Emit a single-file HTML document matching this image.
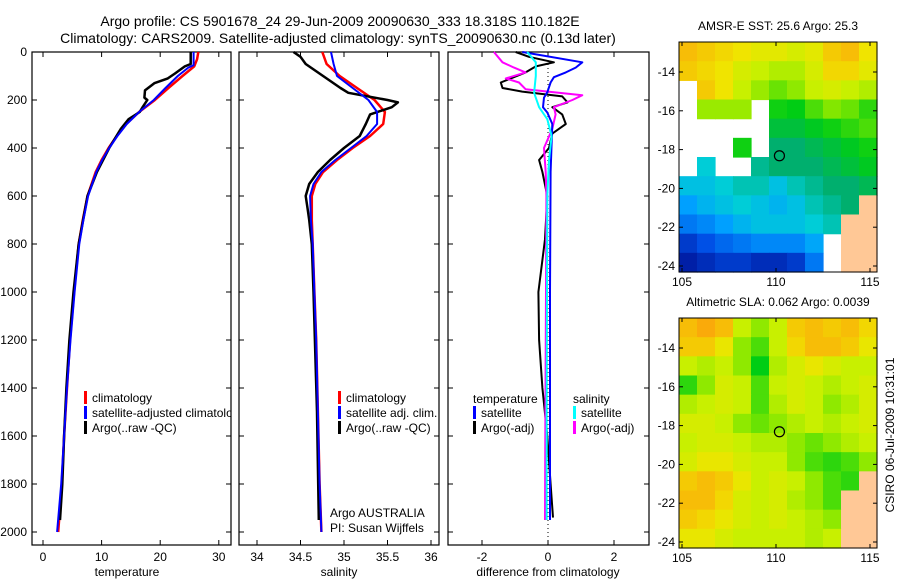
<!DOCTYPE html>
<html><head><meta charset="utf-8"><style>
html,body{margin:0;padding:0;background:#fff}
svg{display:block;font-family:"Liberation Sans",sans-serif}
</style></head><body>
<svg id="fig" width="900" height="580" viewBox="0 0 900 580" xmlns="http://www.w3.org/2000/svg">
<rect width="900" height="580" fill="#fff"/>
<text x="340" y="26" font-size="14" text-anchor="middle">Argo profile: CS 5901678_24 29-Jun-2009 20090630_333 18.318S 110.182E</text>
<text x="338" y="43" font-size="14" text-anchor="middle">Climatology: CARS2009. Satellite-adjusted climatology: synTS_20090630.nc (0.13d later)</text>
<text x="894" y="435" font-size="12" text-anchor="middle" transform="rotate(-90 894 435)">CSIRO 06-Jul-2009 10:31:01</text>
</svg>
<script>
// ---------- data ----------
const depthTicks = [0,200,400,600,800,1000,1200,1400,1600,1800,2000];
const tempTicks = [0,10,20,30];
const salTicks = [34,34.5,35,35.5,36];
const diffTicks = [-2,0,2];

const tClimDepth = [0,30,60,100,150,200,250,300,350,400,450,500,600,700,800,1000,1200,1400,1600,1800,2000];
const tClimVal   = [26.5,26.3,25.8,23.8,21.4,19.1,16.4,14.2,12.6,11.2,10.0,9.0,7.6,6.8,6.1,5.3,4.6,4.1,3.6,3.2,2.6];
const tSatDepth  = [0,55,65,100,150,200,250,300,350,400,450,500,600,700,800,1000,1200,1400,1600,1800,2000];
const tSatVal    = [25.7,25.7,24.8,23.0,20.9,18.9,16.4,14.3,12.7,11.3,10.1,9.1,7.7,6.9,6.2,5.4,4.7,4.1,3.6,3.1,2.4];
const tArgoDepth = [0,50,60,90,110,130,160,190,200,230,250,280,320,400,500,600,800,1000,1200,1400,1600,1800,1950];
const tArgoVal   = [25.2,25.2,24.2,22.5,21.3,19.0,17.4,17.3,17.8,17.0,16.5,14.6,13.3,11.3,9.2,7.6,6.1,5.2,4.5,4.0,3.6,3.3,2.9];

const sClimDepth = [0,50,100,150,200,250,300,350,400,450,500,550,600,700,800,1000,1200,1500,1800,2000];
const sClimVal   = [34.75,34.8,34.95,35.15,35.35,35.47,35.45,35.3,35.1,34.92,34.76,34.67,34.63,34.63,34.64,34.66,34.68,34.7,34.72,34.74];
const sSatDepth  = [0,50,100,150,200,250,300,350,400,450,500,550,600,700,800,1000,1200,1500,1800,2000];
const sSatVal    = [34.85,34.88,34.92,35.1,35.28,35.38,35.38,35.26,35.08,34.9,34.74,34.65,34.61,34.62,34.64,34.66,34.68,34.7,34.72,34.74];
const sArgoDepth = [0,20,50,100,150,170,200,210,230,260,300,350,400,450,500,550,600,650,700,800,1000,1500,1950];
const sArgoVal   = [34.42,34.5,34.56,34.76,34.96,35.05,35.5,35.62,35.55,35.3,35.25,35.18,35.0,34.84,34.7,34.6,34.56,34.58,34.6,34.63,34.65,34.69,34.71];

const dTSatDepth = [0,43,65,85,105,127,168,190,230,252,300,500,1000,1500,1950];
const dTSatVal   = [-0.78,1.04,0.84,0.54,0.18,0.08,-0.02,-0.12,-0.15,-0.02,0.13,0.08,0.06,0.06,0.06];
const dTArgoDepth = [0,20,43,60,85,127,150,165,185,210,230,260,300,340,400,450,500,600,780,1000,1200,1400,1600,1800,1940];
const dTArgoVal   = [-0.98,-0.58,0.18,-0.37,-0.68,-1.43,-1.38,-0.78,0.43,0.59,0.13,0.43,0.54,0.13,0.03,-0.27,-0.17,-0.02,-0.09,-0.29,-0.27,-0.17,-0.02,0.08,0.15];
const dSSatDepth = [0,43,100,170,230,280,350,450,600,1000,1500,1950];
const dSSatVal   = [-0.63,-0.37,-0.37,-0.42,-0.27,-0.02,0.11,0.03,-0.02,-0.03,-0.04,-0.04];
const dSArgoDepth = [0,43,65,85,110,127,155,180,200,230,260,320,400,500,600,1000,1500,1950];
const dSArgoVal   = [-1.64,-1.38,-1.03,-0.68,-1.28,-0.88,-0.68,1.04,0.74,0.18,0.23,0.13,-0.12,-0.07,-0.05,-0.06,-0.08,-0.09];

const lonTicks = [105,110,115];
const latTicks = [-14,-16,-18,-20,-22,-24];
// colour fraction grid (rows lat -12.5 -> -24.3, cols lon 104.85 -> 115.3); -1 = no data, 3 = land
const sstGrid = [
 [.72,.70,.68,.66,.64,.64,.62,.64,.70,.72,.66],
 [.70,.68,.66,.62,.60,.58,.58,.62,.68,.68,.64],
 [-1,.70,.66,.60,.56,.52,.55,.60,.62,.60,.58],
 [-1,.56,.56,.56,-1,.46,.45,.50,.54,.52,.48],
 [-1,-1,-1,-1,-1,.42,.42,.44,.46,.48,.50],
 [-1,-1,-1,.46,-1,.38,.38,.40,.42,.44,.46],
 [-1,.32,-1,-1,.36,.38,.38,.38,.40,.42,.44],
 [.30,.30,.32,.34,.34,.30,.34,.36,.38,.38,.40],
 [.25,.28,.30,.32,.30,.28,.30,.34,.36,.38,3],
 [.20,.22,.25,.28,.30,.30,.30,.32,.34,3,3],
 [.12,.15,.18,.20,.22,.22,.22,.26,-1,3,3],
 [.08,.10,.12,.12,.10,.10,.12,.20,-1,3,3]];
const slaGrid = [
 [.72,.75,.72,.60,.55,.60,.70,.72,.70,.72,.68],
 [.70,.70,.65,.55,.50,.60,.68,.72,.72,.70,.65],
 [.60,.58,.60,.55,.45,.58,.62,.65,.62,.60,.60],
 [.48,.55,.62,.60,.50,.60,.62,.60,.58,.60,.62],
 [.58,.60,.62,.60,.50,.58,.62,.60,.55,.58,.62],
 [.62,.62,.60,.55,.52,.55,.58,.60,.58,.60,.62],
 [.60,.62,.62,.60,.58,.58,.55,.52,.55,.58,.60],
 [.62,.65,.65,.62,.60,.60,.55,.50,.48,.50,.55],
 [.70,.72,.70,.65,.60,.62,.60,.55,.50,.48,3],
 [.72,.72,.68,.62,.60,.62,.58,.55,.50,3,3],
 [.70,.68,.65,.62,.60,.62,.60,.58,.55,3,3],
 [.65,.65,.62,.60,.60,.60,.60,.58,.60,3,3]];
const argoLon = [110.182];
const argoLat = [-18.318];

// ---------- helpers ----------
const svg = document.getElementById('fig');
const NS = 'http://www.w3.org/2000/svg';
function mk(tag, attrs, parent){const e=document.createElementNS(NS,tag);for(const k in attrs)e.setAttribute(k,attrs[k]);(parent||svg).appendChild(e);return e;}
const yD = d => 52 + d*0.24;
const xT = t => 43 + t*5.86;
const xS = s => 257 + (s-34)*87;
const xDf = v => 548 + v*33;

function axesBox(x0,x1,name){
  const g=mk('g',{});
  
  
  const r=mk('rect',{x:x0,y:52,width:x1-x0,height:493,fill:'none',stroke:'#000','stroke-width':1.2},g);
  
  
  return g;
}
function depthAxis(g,x0,x1,labels){
  depthTicks.forEach(d=>{
    const y=yD(d);
    mk('line',{x1:x0,y1:y,x2:x0+5,y2:y,stroke:'#000'},g);
    mk('line',{x1:x1-5,y1:y,x2:x1,y2:y,stroke:'#000'},g);
    if(labels){
      const t=mk('text',{x:x0-5,y:y+4,'font-size':12,'text-anchor':'end'},g);
      t.textContent=d;
      
      
    }
  });
}
function xAxis(g,ticks,fx,fmt,title,cx){
  ticks.forEach(v=>{
    const x=fx(v);
    mk('line',{x1:x,y1:545,x2:x,y2:540,stroke:'#000'},g);
    mk('line',{x1:x,y1:52,x2:x,y2:57,stroke:'#000'},g);
    const t=mk('text',{x:x,y:561,'font-size':12,'text-anchor':'middle'},g);
    t.textContent=fmt(v);
    
    
  });
  const tt=mk('text',{x:cx,y:576,'font-size':12,'text-anchor':'middle'},g);
  tt.textContent=title;
  
  
}
function line(g,ds,vs,fx,color,w,name){
  const pts=ds.map((d,i)=>fx(vs[i]).toFixed(1)+','+yD(d).toFixed(1)).join(' ');
  const p=mk('polyline',{points:pts,fill:'none',stroke:color,'stroke-width':w,'stroke-linejoin':'round'},g);
  
  
}
function legend(g,x,y,color,label,name){
  if(color) mk('rect',{x:x,y:y-10,width:3,height:13,fill:color},g);
  const t=mk('text',{x:x+8,y:y+1,'font-size':12},g);
  t.textContent=label;
  
  
}

// ---------- panel 1: temperature ----------
const g1=axesBox(32,231,'temperature-panel');
depthAxis(g1,32,231,true);
xAxis(g1,tempTicks,xT,v=>v,'temperature',127);
const c1=mk('clipPath',{id:'c1'});mk('rect',{x:32,y:52,width:199,height:493},c1);
const l1=mk('g',{'clip-path':'url(#c1)'},g1);
line(l1,tClimDepth,tClimVal,xT,'#f00',2.5,'temp-climatology-line');
line(l1,tArgoDepth,tArgoVal,xT,'#000',2.5,'temp-argo-line');
line(l1,tSatDepth,tSatVal,xT,'#00f',2,'temp-satellite-line');
legend(l1,84,401,'#f00','climatology','legend-climatology');
legend(l1,84,416,'#00f','satellite-adjusted climatology','legend-satellite-adjusted');
legend(l1,84,431,'#000','Argo(..raw -QC)','legend-argo');

// ---------- panel 2: salinity ----------
const g2=axesBox(239,439,'salinity-panel');
depthAxis(g2,239,439,false);
xAxis(g2,salTicks,xS,v=>v,'salinity',339);
line(g2,sClimDepth,sClimVal,xS,'#f00',2.5,'sal-climatology-line');
line(g2,sArgoDepth,sArgoVal,xS,'#000',2.5,'sal-argo-line');
line(g2,sSatDepth,sSatVal,xS,'#00f',2,'sal-satellite-line');
legend(g2,338,401,'#f00','climatology','legend-sal-climatology');
legend(g2,338,416,'#00f','satellite adj. clim.','legend-sal-satellite');
legend(g2,338,431,'#000','Argo(..raw -QC)','legend-sal-argo');
legend(g2,322,516,null,'Argo AUSTRALIA','float-owner-label');
legend(g2,322,531,null,'PI: Susan Wijffels','pi-label');

// ---------- panel 3: difference ----------
const g3=axesBox(448,649,'difference-panel');
depthAxis(g3,448,649,false);
xAxis(g3,diffTicks,xDf,v=>v,'difference from climatology',548);
mk('line',{x1:548,y1:52,x2:548,y2:545,stroke:'#000','stroke-dasharray':'1,3'},g3);
line(g3,dTArgoDepth,dTArgoVal,xDf,'#000',2,'diff-temp-argo-line');
line(g3,dSArgoDepth,dSArgoVal,xDf,'#f0f',2,'diff-sal-argo-line');
line(g3,dTSatDepth,dTSatVal,xDf,'#00f',2,'diff-temp-satellite-line');
line(g3,dSSatDepth,dSSatVal,xDf,'#0ff',2,'diff-sal-satellite-line');
legend(g3,465,402,null,'temperature','legend-temperature-heading');
legend(g3,473,416,'#00f','satellite','legend-diff-temp-satellite');
legend(g3,473,431,'#000','Argo(-adj)','legend-diff-temp-argo');
legend(g3,565,402,null,'salinity','legend-salinity-heading');
legend(g3,573,416,'#0ff','satellite','legend-diff-sal-satellite');
legend(g3,573,431,'#f0f','Argo(-adj)','legend-diff-sal-argo');

// ---------- maps ----------
const cmapStops = [[0.05,[0,10,140]],[0.15,[0,80,230]],[0.25,[0,160,255]],[0.32,[0,205,215]],[0.38,[0,175,110]],[0.45,[0,205,20]],[0.53,[120,230,0]],[0.60,[200,240,0]],[0.66,[240,228,0]],[0.75,[250,170,10]],[0.85,[240,110,0]]];
function cmap(v){
  if(v<=cmapStops[0][0]) return 'rgb('+cmapStops[0][1].join(',')+')';
  for(let i=1;i<cmapStops.length;i++){
    if(v<=cmapStops[i][0]){
      const [a,ca]=cmapStops[i-1],[b,cb]=cmapStops[i];const f=(v-a)/(b-a);
      return 'rgb('+ca.map((c,k)=>Math.round(c+(cb[k]-c)*f)).join(',')+')';
    }
  }
  return 'rgb('+cmapStops[cmapStops.length-1][1].join(',')+')';
}
function map(top,grid,title,name){
  const L=679,R=877,B=top+230;
  const lonX=lo=>682+(lo-105)*18.8;
  const latY=la=>top+30+(-14-la)*19.4;
  const g=mk('g',{});
  
  
  const rows=grid.length, cols=grid[0].length;
  const cw=(R-L)/cols, ch=(B-top)/rows;
  grid.forEach((row,i)=>row.forEach((v,j)=>{
    if(v<0) return;
    const fill = v>2 ? '#ffc896' : cmap(v);
    const r=mk('rect',{x:(L+j*cw).toFixed(2),y:(top+i*ch).toFixed(2),width:(cw+0.6).toFixed(2),height:(ch+0.6).toFixed(2),fill:fill},g);
    
    
  }));
  mk('rect',{x:L,y:top,width:R-L,height:B-top,fill:'none',stroke:'#000'},g);
  lonTicks.forEach(lo=>{
    const x=lonX(lo);
    mk('line',{x1:x,y1:B,x2:x,y2:B-4,stroke:'#000'},g);
    mk('line',{x1:x,y1:top,x2:x,y2:top+4,stroke:'#000'},g);
    const t=mk('text',{x:x,y:B+14,'font-size':12,'text-anchor':'middle'},g);
    t.textContent=lo;
    
    
  });
  latTicks.forEach(la=>{
    const y=latY(la);
    mk('line',{x1:L,y1:y,x2:L+4,y2:y,stroke:'#000'},g);
    mk('line',{x1:R-4,y1:y,x2:R,y2:y,stroke:'#000'},g);
    const t=mk('text',{x:L-4,y:y+4,'font-size':12,'text-anchor':'end'},g);
    t.textContent=la;
    
    
  });
  argoLon.forEach((lo,i)=>{
    const c=mk('circle',{cx:lonX(lo),cy:latY(argoLat[i]),r:5,fill:'none',stroke:'#000','stroke-width':1.2},g);
    
    
  });
  const t=mk('text',{x:778,y:top-12,'font-size':12,'text-anchor':'middle'},g);
  t.textContent=title;
  
  
}
map(42,sstGrid,'AMSR-E SST: 25.6 Argo: 25.3','sst-map');
map(318,slaGrid,'Altimetric SLA: 0.062 Argo: 0.0039','sla-map');
</script>
</body></html>
